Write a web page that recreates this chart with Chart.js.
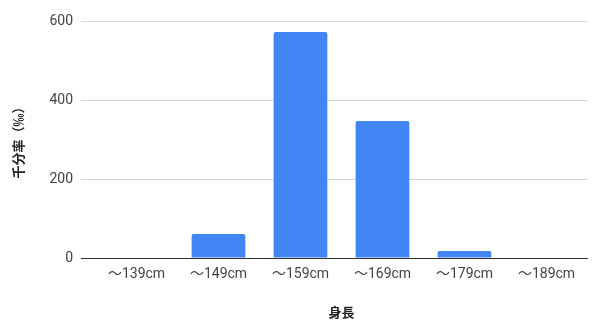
<!DOCTYPE html>
<html>
<head>
<meta charset="utf-8">
<script src="https://cdn.jsdelivr.net/npm/chart.js@4/dist/chart.umd.min.js"></script>
<style>
  html, body { margin: 0; padding: 0; background: #fff; }
  #wrap { width: 592px; height: 320px; }
</style>
</head>
<body>
<div id="wrap"><canvas id="c" width="592" height="320"></canvas></div>
<script>
// Height bands and per-mille share of each band
const categories = ['～139cm', '～149cm', '～159cm', '～169cm', '～179cm', '～189cm'];
const permille = [0, 61, 572, 347, 18, 0];
const yTicks = [0, 200, 400, 600];

const xTitle = '身長';
const yTitle = '千分率（‰）';

const tickFont = { family: "Roboto, 'Noto Sans CJK JP', sans-serif", size: 14 };
const titleFont = { family: "'Noto Sans CJK JP', Roboto, sans-serif", size: 13, weight: 'bold' };

new Chart(document.getElementById('c'), {
  type: 'bar',
  data: {
    labels: categories,
    datasets: [{
      data: permille,
      backgroundColor: '#4285f4',
      borderRadius: 2,
      borderSkipped: 'bottom',
      barPercentage: 0.655,
      categoryPercentage: 1
    }]
  },
  options: {
    responsive: false,
    animation: false,
    devicePixelRatio: 1,
    layout: { padding: { top: 21, right: 4.5, bottom: 0, left: 0 } },
    plugins: { legend: { display: false }, tooltip: { enabled: false } },
    scales: {
      x: {
        grid: { display: false, drawTicks: false },
        border: { display: true, color: '#333', width: 1 },
        ticks: { color: '#444', font: tickFont, padding: 8, maxRotation: 0, autoSkip: false },
        title: { display: true, text: xTitle, color: '#222', font: titleFont, padding: { top: 0, bottom: 0 } },
        afterFit: s => { s.height = 62; }
      },
      y: {
        min: 0,
        max: 600,
        afterBuildTicks: s => { s.ticks = yTicks.map(v => ({ value: v })); },
        grid: {
          color: ctx => (ctx.tick && ctx.tick.value === 0) ? '#333' : '#d6d6d6',
          tickLength: 14.5,
          drawTicks: true
        },
        border: { display: false },
        ticks: { color: '#444', font: tickFont, padding: 8 },
        title: { display: true, text: yTitle, color: '#222', font: titleFont, padding: { top: 10, bottom: 0 } },
        afterFit: s => { s.width = 95.5; }
      }
    }
  }
});
</script>
</body>
</html>
